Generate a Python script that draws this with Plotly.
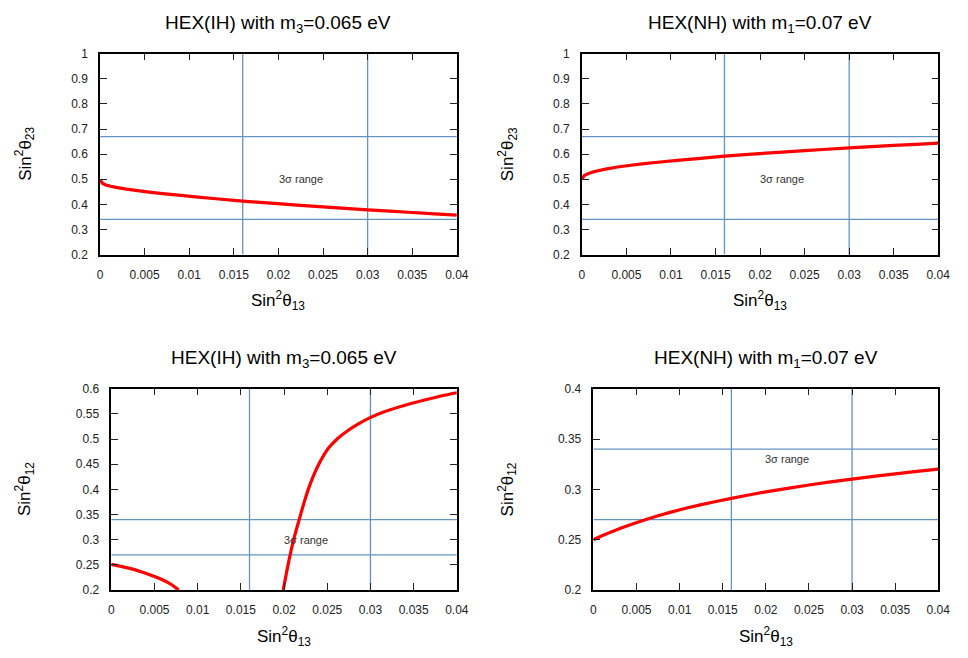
import plotly.graph_objects as go

# sin^2(theta13) grid and sin^2(theta23) predictions (top row)
s13_a = [0, 0.0003, 0.0007, 0.0012, 0.0018, 0.0028, 0.004, 0.0055, 0.007, 0.0088,
         0.0107, 0.013, 0.016, 0.0195, 0.0225, 0.025, 0.0275, 0.03, 0.0325, 0.035,
         0.0375, 0.04]
s23_ih = [0.499, 0.483, 0.4765, 0.472, 0.4675, 0.4615, 0.4555, 0.449, 0.443, 0.4365,
          0.430, 0.4225, 0.4132, 0.404, 0.3963, 0.3903, 0.3843, 0.3785, 0.3731, 0.3678,
          0.3624, 0.3572]
s23_nh = [0.502, 0.516, 0.5225, 0.5285, 0.534, 0.5415, 0.549, 0.5557, 0.562, 0.5688,
          0.5753, 0.5825, 0.5918, 0.601, 0.6083, 0.614, 0.6195, 0.6248, 0.6298, 0.6346,
          0.6392, 0.6437]

# sin^2(theta12) predictions (bottom row); the IH curve has two branches
s13_ih1 = [0, 0.001, 0.002, 0.0027, 0.0038, 0.005, 0.0058, 0.0065, 0.0072, 0.0078]
s12_ih1 = [0.251, 0.2474, 0.2435, 0.2405, 0.2345, 0.227, 0.2214, 0.2155, 0.208, 0.200]
s13_ih2 = [0.0199, 0.0203, 0.0207, 0.0212, 0.0218, 0.0223, 0.0228, 0.0233, 0.0239,
           0.0245, 0.0251, 0.0262, 0.0274, 0.0286, 0.0299, 0.0316, 0.0334, 0.0350,
           0.0365, 0.0383, 0.040]
s12_ih2 = [0.200, 0.236, 0.270, 0.306, 0.343, 0.373, 0.400, 0.423, 0.446,
           0.465, 0.481, 0.501, 0.517, 0.530, 0.542, 0.554, 0.564, 0.572,
           0.5786, 0.586, 0.592]
s13_b = [0, 0.001, 0.002, 0.0033, 0.0047, 0.0061, 0.0075, 0.009, 0.0107, 0.0124,
         0.0142, 0.016, 0.018, 0.02, 0.0225, 0.025, 0.0275, 0.03, 0.0325, 0.035,
         0.0375, 0.04]
s12_nh = [0.250, 0.2539, 0.2575, 0.2619, 0.2662, 0.2701, 0.2738, 0.2774, 0.2812,
          0.2846, 0.2880, 0.2911, 0.2944, 0.2975, 0.3010, 0.3043, 0.3074, 0.3102,
          0.3129, 0.3154, 0.3178, 0.3201]

# 3-sigma bounds
s13_bounds = [0.016, 0.03]
s23_bounds = [0.34, 0.67]
s12_bounds = [0.27, 0.34]

titles = ["HEX(IH) with m<sub>3</sub>=0.065 eV", "HEX(NH) with m<sub>1</sub>=0.07 eV",
          "HEX(IH) with m<sub>3</sub>=0.065 eV", "HEX(NH) with m<sub>1</sub>=0.07 eV"]

W, H = 968, 658
# panel boxes in pixels: (left, right, top, bottom)
boxes = [(98.5, 461, 47.7, 253), (588, 950, 47.7, 253),
         (110, 461, 390, 595.7), (599.7, 950, 390, 595.7)]
yranges = [(0.2, 1.0), (0.2, 1.0), (0.2, 0.6), (0.2, 0.4)]
ydticks = [0.1, 0.1, 0.05, 0.05]
ylabels = ["Sin<sup>2</sup>θ<sub>23</sub>", "Sin<sup>2</sup>θ<sub>23</sub>",
           "Sin<sup>2</sup>θ<sub>12</sub>", "Sin<sup>2</sup>θ<sub>12</sub>"]
note_y = [0.5, 0.5, 0.3, 0.33]
hbounds = [s23_bounds, s23_bounds, s12_bounds, s12_bounds]

RED = "#ff0000"
BLUE = "#6394c4"
FONT = "Liberation Sans, Arial, sans-serif"

fig = go.Figure()
# (x, y, smooth?) per panel
curves = [[(s13_a, s23_ih, False)], [(s13_a, s23_nh, False)],
          [(s13_ih1, s12_ih1, False), (s13_ih2, s12_ih2, True)],
          [(s13_b, s12_nh, False)]]

annotations = []
shapes = []
layout = {}
for i in range(4):
    n = "" if i == 0 else str(i + 1)
    xa, ya = "x" + n, "y" + n
    l, r, t, b = boxes[i]
    dom_x = [l / W, r / W]
    dom_y = [1 - b / H, 1 - t / H]
    common = dict(showgrid=False, zeroline=False, showline=True, linecolor="black",
                  linewidth=1.5, mirror="ticks", ticks="inside", ticklen=7,
                  tickwidth=1.2, tickcolor="#222222",
                  tickfont=dict(family=FONT, size=12, color="#222222"))
    layout["xaxis" + n] = dict(domain=dom_x, range=[0, 0.04], dtick=0.005, tick0=0,
                               anchor=ya, ticklabelstandoff=8, **common)
    layout["yaxis" + n] = dict(domain=dom_y, range=list(yranges[i]), dtick=ydticks[i],
                               tick0=0.2, anchor=xa, ticklabelstandoff=8, **common)
    # 3-sigma boundary lines
    for xv in s13_bounds:
        shapes.append(dict(type="line", xref=xa, yref=ya, x0=xv, x1=xv,
                           y0=yranges[i][0], y1=yranges[i][1],
                           line=dict(color=BLUE, width=1.3), layer="below"))
    for yv in hbounds[i]:
        shapes.append(dict(type="line", xref=xa, yref=ya, x0=0, x1=0.04,
                           y0=yv, y1=yv,
                           line=dict(color=BLUE, width=1.3), layer="below"))
    for xs, ys, smooth in curves[i]:
        line = dict(color=RED, width=3.2, simplify=False)
        if smooth:
            line.update(shape="spline", smoothing=0.6)
        fig.add_trace(go.Scatter(x=xs, y=ys, mode="lines", xaxis=xa, yaxis=ya,
                                 line=line, showlegend=False, hoverinfo="skip"))
    annotations.append(dict(xref=xa, yref=ya, x=0.0225, y=note_y[i],
                            text="3σ range", showarrow=False,
                            font=dict(family=FONT, size=11, color="#333333")))
    cx = (l + r) / 2
    annotations.append(dict(xref="paper", yref="paper", x=cx / W,
                            y=1 - (t - 30.5) / H, text=titles[i], showarrow=False,
                            xanchor="center", yanchor="middle",
                            font=dict(family=FONT, size=19, color="black")))
    annotations.append(dict(xref="paper", yref="paper", x=cx / W,
                            y=1 - (b + 47) / H, text="Sin<sup>2</sup>θ<sub>13</sub>",
                            showarrow=False, xanchor="center", yanchor="middle",
                            font=dict(family=FONT, size=17, color="black")))
    annotations.append(dict(xref="paper", yref="paper",
                            x=(22 if i % 2 == 0 else 512) / W,
                            y=1 - ((t + b) / 2) / H, text=ylabels[i], textangle=-90,
                            showarrow=False, xanchor="center", yanchor="middle",
                            font=dict(family=FONT, size=17, color="black")))

fig.update_layout(width=W, height=H, margin=dict(l=0, r=0, t=0, b=0),
                  paper_bgcolor="white", plot_bgcolor="white",
                  annotations=annotations, shapes=shapes, **layout)

fig.write_html("out.html")
